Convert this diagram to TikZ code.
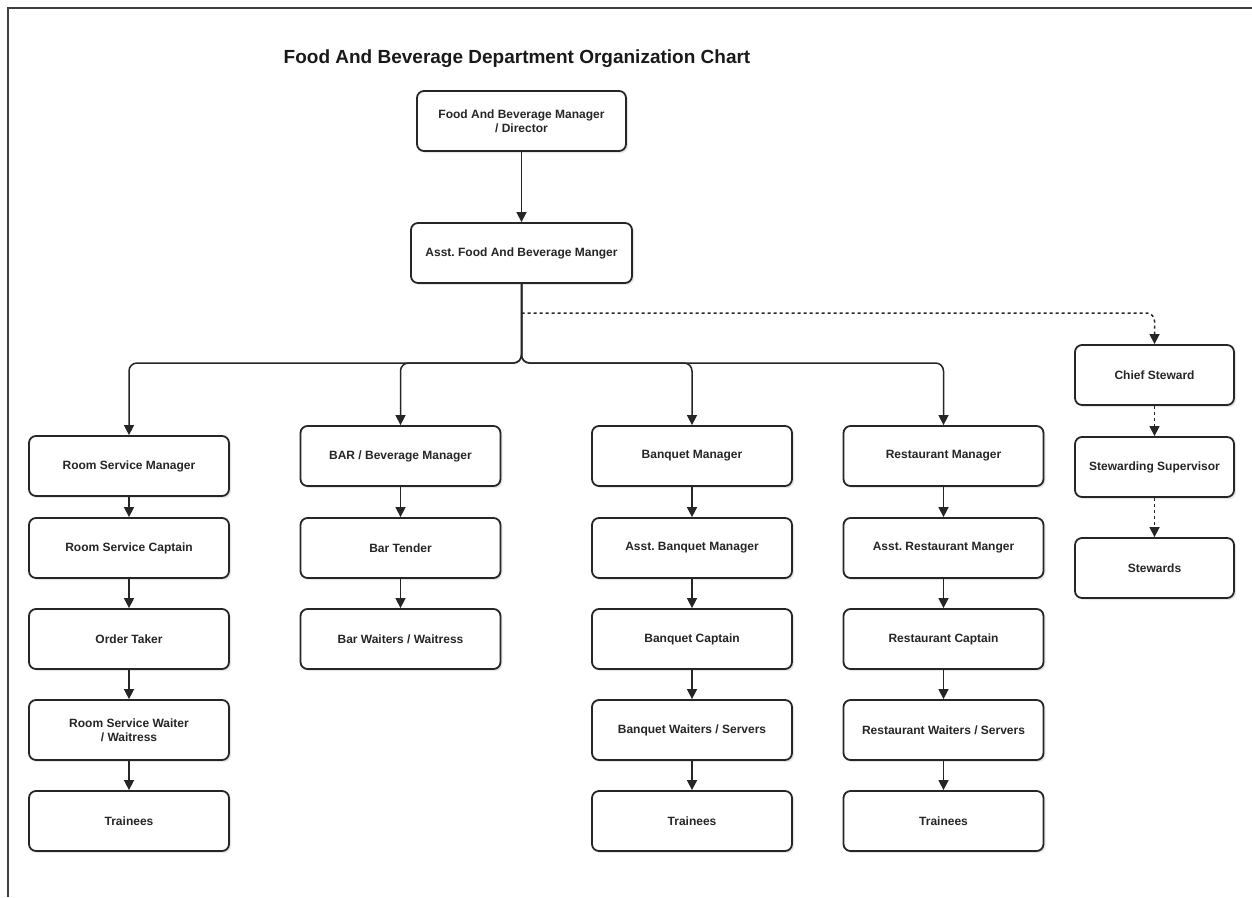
\documentclass[tikz,border=0pt]{standalone}
\usepackage{fontspec}
\setmainfont{Liberation Sans}
\usetikzlibrary{arrows.meta,shadows}
\frenchspacing
\begin{document}
\begin{tikzpicture}[x=1pt,y=-1pt,
  box/.style={draw=black!85, line width=1.8pt, rounded corners=7pt, fill=white,
    minimum width=200pt, minimum height=60pt, align=center, inner sep=2pt,
    font=\bfseries\fontsize{12}{14}\selectfont, text=black!85,
    drop shadow={shadow xshift=2pt, shadow yshift=-2pt, opacity=0.2}},
  conn/.style={draw=black!85, line width=1.5pt, rounded corners=8pt,
    -{Triangle[width=10pt,length=10pt]}},
  frame/.style={draw=black!75, line width=2pt}]
\useasboundingbox (0,0) rectangle (1252,897);
\draw[frame] (8,897) -- (8,8) -- (1252,8);
\node[font=\bfseries\fontsize{19}{22}\selectfont, text=black!90] (title) at (517,59) {Food And Beverage Department Organization Chart};
\node[box, minimum width=209pt] (dir) at (521.5,121) {Food And Beverage Manager\\/ Director};
\node[box, minimum width=221pt] (asst) at (521.5,253) {Asst. Food And Beverage Manger};
% column 1
\node[box] (rsm) at (129,466) {Room Service Manager};
\node[box] (rsc) at (129,548) {Room Service Captain};
\node[box] (ot) at (129,639) {Order Taker};
\node[box] (rsw) at (129,730) {Room Service Waiter\\/ Waitress};
\node[box] (tr1) at (129,821) {Trainees};
% column 2
\node[box] (bar) at (400.5,456) {BAR / Beverage Manager};
\node[box] (bt) at (400.5,548) {Bar Tender};
\node[box] (bw) at (400.5,639) {Bar Waiters / Waitress};
% column 3
\node[box] (bm) at (692,456) {Banquet Manager};
\node[box] (abm) at (692,548) {Asst. Banquet Manager};
\node[box] (bc) at (692,639) {Banquet Captain};
\node[box] (bws) at (692,730) {Banquet Waiters / Servers};
\node[box] (tr3) at (692,821) {Trainees};
% column 4
\node[box] (rm) at (943.5,456) {Restaurant Manager};
\node[box] (arm) at (943.5,548) {Asst. Restaurant Manger};
\node[box] (rc) at (943.5,639) {Restaurant Captain};
\node[box] (rws) at (943.5,730) {Restaurant Waiters / Servers};
\node[box] (tr4) at (943.5,821) {Trainees};
% stewarding
\node[box, minimum width=159pt] (chief) at (1154.5,375) {Chief Steward};
\node[box, minimum width=159pt] (sup) at (1154.5,467) {Stewarding Supervisor};
\node[box, minimum width=159pt] (stew) at (1154.5,568) {Stewards};
% connectors
\draw[conn] (dir) -- (asst);
\coordinate (split) at (521.5,313);
\coordinate (bus) at (521.5,363);
\foreach \c in {rsm,bar,bm,rm} \draw[conn] (asst.south) -- (bus) -| (\c.north);
\draw[conn,dashed] (split) -| (chief.north);
\draw[conn,dashed] (chief) -- (sup);
\draw[conn,dashed] (sup) -- (stew);
\draw[conn] (rsm) -- (rsc);
\draw[conn] (rsc) -- (ot);
\draw[conn] (ot) -- (rsw);
\draw[conn] (rsw) -- (tr1);
\draw[conn] (bar) -- (bt);
\draw[conn] (bt) -- (bw);
\draw[conn] (bm) -- (abm);
\draw[conn] (abm) -- (bc);
\draw[conn] (bc) -- (bws);
\draw[conn] (bws) -- (tr3);
\draw[conn] (rm) -- (arm);
\draw[conn] (arm) -- (rc);
\draw[conn] (rc) -- (rws);
\draw[conn] (rws) -- (tr4);
\end{tikzpicture}
\end{document}
